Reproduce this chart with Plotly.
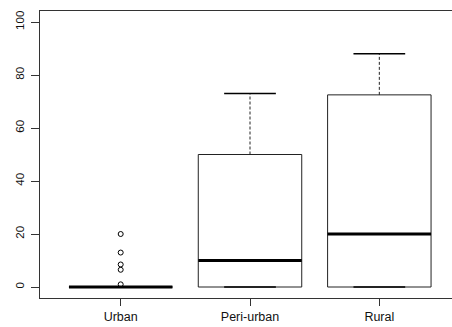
import plotly.graph_objects as go

categories = ["Urban", "Peri-urban", "Rural"]
lower_whisker = [0, 0, 0]
q1 = [0, 0, 0]
median = [0, 10, 20]
q3 = [0, 50, 72.5]
upper_whisker = [0, 73, 88]
urban_outliers = [1, 6.5, 8.5, 13, 20]
y_ticks = [0, 20, 40, 60, 80, 100]

positions = [i + 1 for i in range(len(categories))]
half_box = 0.4
half_cap = 0.2

box_x, box_y = [], []
med_x, med_y = [], []
wh_x, wh_y = [], []
cap_x, cap_y = [], []
for p, a, b, c, d, e in zip(positions, lower_whisker, q1, median, q3, upper_whisker):
    box_x += [p - half_box, p + half_box, p + half_box, p - half_box, p - half_box, None]
    box_y += [b, b, d, d, b, None]
    med_x += [p - half_box, p + half_box, None]
    med_y += [c, c, None]
    wh_x += [p, p, None, p, p, None]
    wh_y += [d, e, None, b, a, None]
    cap_x += [p - half_cap, p + half_cap, None, p - half_cap, p + half_cap, None]
    cap_y += [e, e, None, a, a, None]

line_col = "#222222"
fig = go.Figure()
fig.add_trace(go.Scatter(x=box_x, y=box_y, mode="lines",
                         line=dict(color=line_col, width=1), hoverinfo="skip"))
fig.add_trace(go.Scatter(x=wh_x, y=wh_y, mode="lines",
                         line=dict(color=line_col, width=1, dash="3px,2px"), hoverinfo="skip"))
fig.add_trace(go.Scatter(x=cap_x, y=cap_y, mode="lines",
                         line=dict(color="#000000", width=1.5), hoverinfo="skip"))
fig.add_trace(go.Scatter(x=med_x, y=med_y, mode="lines",
                         line=dict(color="#000000", width=3), hoverinfo="skip"))
fig.add_trace(go.Scatter(x=[positions[0]] * len(urban_outliers), y=urban_outliers,
                         mode="markers",
                         marker=dict(symbol="circle-open", size=5,
                                     color="#000000", line=dict(width=1))))

fig.update_layout(
    width=452, height=327,
    margin=dict(l=40, r=0, t=11, b=29),
    plot_bgcolor="white", paper_bgcolor="white",
    showlegend=False,
    font=dict(family="Liberation Sans, Arial, sans-serif", color="#111111"),
)
fig.update_xaxes(
    range=[0.376, 3.562], tickvals=positions, ticktext=categories,
    showgrid=False, zeroline=False,
    showline=True, linecolor="#333333", linewidth=1, mirror=True,
    ticks="outside", ticklen=7, tickcolor="#333333",
    tickfont=dict(size=12.5),
)
fig.update_yaxes(
    range=[-4.15, 104.15], tickvals=y_ticks,
    showgrid=False, zeroline=False,
    showline=True, linecolor="#333333", linewidth=1,
    ticks="outside", ticklen=8, tickcolor="#333333",
    tickangle=-90, tickfont=dict(size=11.5), ticklabelstandoff=2,
)
fig.write_html("out.html")
